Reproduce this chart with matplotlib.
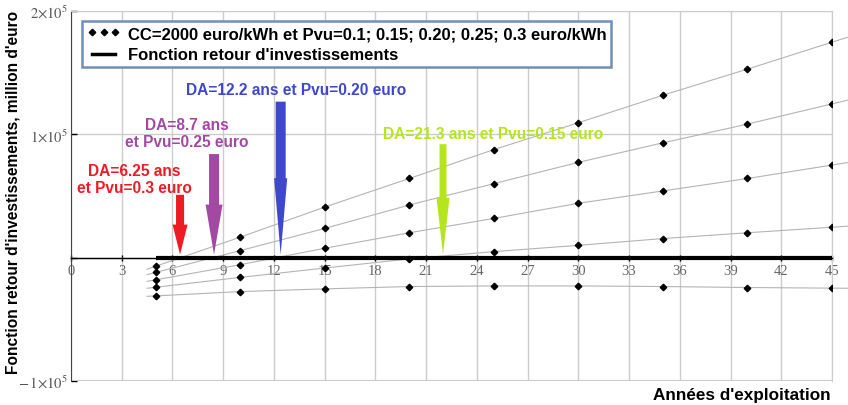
import matplotlib
matplotlib.use('Agg')
import matplotlib.pyplot as plt
from matplotlib.lines import Line2D

plt.rcParams['font.family'] = ['Liberation Sans', 'DejaVu Sans']
plt.rcParams['mathtext.fontset'] = 'stix'

# years of operation where the model was evaluated
annees = [5, 10, 15, 20, 25, 30, 35, 40, 45]
# investment return function (euro) for each selling price Pvu
f_pvu_030 = [-0.07e5, 0.166e5, 0.41e5, 0.642e5, 0.876e5, 1.094e5, 1.317e5, 1.529e5, 1.747e5]
f_pvu_025 = [-0.12e5, 0.057e5, 0.237e5, 0.427e5, 0.60e5, 0.773e5, 0.931e5, 1.083e5, 1.247e5]
f_pvu_020 = [-0.18e5, -0.057e5, 0.076e5, 0.202e5, 0.318e5, 0.441e5, 0.541e5, 0.642e5, 0.751e5]
f_pvu_015 = [-0.24e5, -0.16e5, -0.084e5, -0.01e5, 0.049e5, 0.10e5, 0.155e5, 0.202e5, 0.247e5]
f_pvu_010 = [-0.31e5, -0.275e5, -0.253e5, -0.234e5, -0.229e5, -0.229e5, -0.234e5, -0.242e5, -0.247e5]
series = [f_pvu_030, f_pvu_025, f_pvu_020, f_pvu_015, f_pvu_010]

retour_x = [5, 45]
retour_y = [0, 0]

xticks = list(range(0, 46, 3))
yticks = [-1e5, 0, 1e5, 2e5]
ytick_labels = [r'$-\,1{\times}10^5$', '', r'$1{\times}10^5$', r'$2{\times}10^5$']

# DA annotations: text, text pos, arrow x, arrow top, colour, arrow sizes
notes = [
    ('DA=6.25 ans\net Pvu=0.3 euro', 3.76, 0.64e5, 6.45, 0.51e5, '#ed1c24', (5.8, 10.8, 21.6)),
    ('DA=8.7 ans\net Pvu=0.25 euro', 6.86, 1.01e5, 8.46, 0.84e5, '#a349a4', (7.2, 12.2, 36)),
    ('DA=12.2 ans et Pvu=0.20 euro', 13.3, 1.363e5, 12.4, 1.265e5, '#3f48cc', (7.2, 9.4, 55)),
    ('DA=21.3 ans et Pvu=0.15 euro', 24.96, 1.004e5, 22.0, 0.92e5, '#b5e61d', (5.0, 9.4, 41)),
]

fig = plt.figure(figsize=(8.48, 4.06), dpi=100)
ax = fig.add_axes([0.0837, 0.0591, 0.8974, 0.9113])

for ys in series:
    # trend line, slightly extended beyond the points
    x0 = annees[0] - 0.5
    y0 = ys[0] - (ys[1] - ys[0]) / (annees[1] - annees[0]) * 0.5
    x1 = 46.0
    y1 = ys[-1] + (ys[-1] - ys[-2]) / (annees[-1] - annees[-2]) * 1.0
    ax.plot([x0] + annees + [x1], [y0] + ys + [y1], color='#b4b4b4', lw=0.8, clip_on=False, zorder=2)
    ax.plot(annees, ys, ls='none', marker='D', ms=3.3, color='black', zorder=4)

ax.plot(retour_x, retour_y, color='black', lw=3, solid_capstyle='butt', zorder=3)

for txt, tx, ty, axx, atop, col, (tw, hw, hl) in notes:
    ax.text(tx, ty, txt, color=col, fontsize=11.2, fontweight='bold', ha='center', va='center',
            linespacing=1.15, zorder=6)
    ax.annotate('', xy=(axx, 0.025e5), xytext=(axx, atop),
                arrowprops=dict(arrowstyle=f'simple,head_length={hl},head_width={hw},tail_width={tw}',
                                mutation_scale=1, color=col, lw=0, shrinkA=0, shrinkB=0), zorder=5)

ax.set_xlim(0, 45)
ax.set_ylim(-1e5, 2e5)
ax.set_xticks(xticks)
ax.set_yticks(yticks)
ax.set_yticklabels(ytick_labels)
ax.grid(True, color='#cccccc', lw=1)
ax.set_axisbelow(True)

ax.spines['bottom'].set_position(('data', 0))
ax.spines['bottom'].set_color('black')
ax.spines['bottom'].set_linewidth(1)
ax.spines['left'].set_color('#444444')
for s in ['top', 'right']:
    ax.spines[s].set_color('#cccccc')
ax.axhline(-1e5, color='#cccccc', lw=1.5, zorder=1)

ax.tick_params(axis='x', direction='inout', length=5, width=1, pad=2, labelsize=10.5, labelcolor='#666666')
ax.tick_params(axis='y', direction='in', length=4, width=1, pad=2, labelsize=10.5, labelcolor='#555555')
for lab in ax.get_xticklabels():
    lab.set_fontfamily('Liberation Serif')

handles = [Line2D([], [], ls='none', marker='D', ms=3.3, color='black'),
           Line2D([], [], color='black', lw=2.5)]
leg = ax.legend(handles, ["CC=2000 euro/kWh et Pvu=0.1; 0.15; 0.20; 0.25; 0.3 euro/kWh",
                          "Fonction retour d'investissements"],
                loc='upper left', bbox_to_anchor=(0.0145, 0.973), borderaxespad=0,
                numpoints=3, handlelength=2.0, handletextpad=0.45, borderpad=0.3, labelspacing=0.38,
                fancybox=False, framealpha=1, prop={'weight': 'bold', 'size': 12})
leg.get_frame().set_edgecolor('#7090b8')
leg.get_frame().set_linewidth(1.8)
leg.set_zorder(10)

fig.text(0.015, 0.525, "Fonction retour d'investissements, million d'euro", rotation=90,
         fontsize=11.2, fontweight='bold', ha='center', va='center')
fig.text(0.98, 0.027, "Années d'exploitation", fontsize=12.3, fontweight='bold', ha='right', va='center')

fig.savefig('out.png', dpi=100)
